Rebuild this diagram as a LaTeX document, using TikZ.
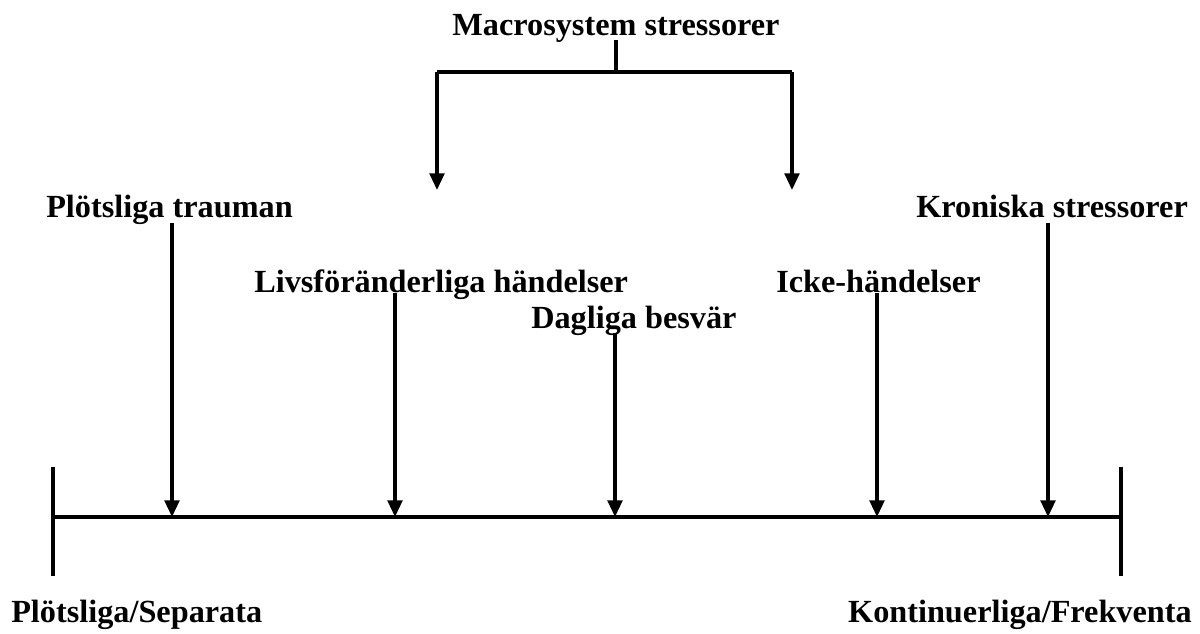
\documentclass[tikz,border=0pt]{standalone}
\usepackage{fontspec}
\setmainfont{Liberation Serif}
\usetikzlibrary{arrows.meta}
\begin{document}
\begin{tikzpicture}[x=0.75pt,y=-0.75pt,
  lbl/.style={font=\fontsize{24.2}{28}\selectfont\bfseries, inner sep=0pt, anchor=base west},
  ln/.style={line width=2.5pt},
  arr/.style={line width=2.5pt, -{Triangle[length=12.5pt,width=11pt]}}]
\useasboundingbox (0,0) rectangle (1200,633);
% labels
\node[lbl, anchor=base] (macro) at (616,35) {Macrosystem stressorer};
\node[lbl] (pt) at (46,217) {Plötsliga trauman};
\node[lbl] (ks) at (916,217) {Kroniska stressorer};
\node[lbl] (lh) at (254,292) {Livsföränderliga händelser};
\node[lbl] (ih) at (776,292) {Icke-händelser};
\node[lbl] (db) at (531,328) {Dagliga besvär};
\node[lbl] (ps) at (11,622) {Plötsliga/Separata};
\node[lbl, anchor=base east] (kf) at (1192,622) {Kontinuerliga/Frekventa};
% axis
\coordinate (aL) at (53,517);
\coordinate (aR) at (1121,517);
\draw[ln] (aL) -- (aR);
\draw[ln] (53,467) -- (53,576);
\draw[ln] (1121,467) -- (1121,576);
% axis targets
\coordinate (t1) at (172,517);
\coordinate (t2) at (395,517);
\coordinate (t3) at (615,517);
\coordinate (t4) at (877,517);
\coordinate (t5) at (1048,517);
% macro bracket
\coordinate (mb) at (616,72);
\coordinate (mL) at (437,72);
\coordinate (mR) at (792,72);
\coordinate (dL) at (437,190);
\coordinate (dR) at (792,190);
\draw[ln] (616,40) -- (mb);
\draw[ln] (mL) -- (mR);
\draw[arr] (mL) -- (dL);
\draw[arr] (mR) -- (dR);
% arrows to axis
\draw[arr] (172,223) -- (t1);
\draw[arr] (395,293) -- (t2);
\draw[arr] (615,333) -- (t3);
\draw[arr] (877,293) -- (t4);
\draw[arr] (1048,223) -- (t5);
\end{tikzpicture}
\end{document}
